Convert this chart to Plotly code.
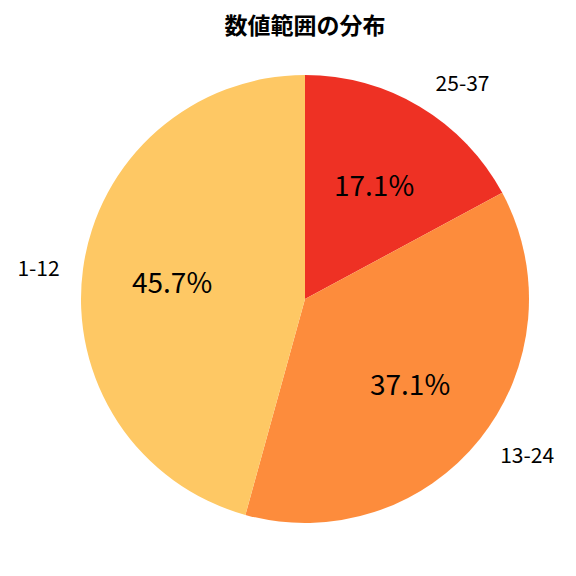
import math
import plotly.graph_objects as go

# data
labels = ["25-37", "13-24", "1-12"]
counts = [6, 13, 16]
colors = ["#ee3124", "#fd8c3c", "#fec864"]

font = "Noto Sans CJK JP"
W = H = 576
# pie centre / radius in page pixels (page body has an 8px margin)
CX, CY, R = 297, 291, 224


def dom(r):
    return dict(x=[(CX - r) / W, (CX + r) / W], y=[1 - (CY + r) / H, 1 - (CY - r) / H])


# outer labels (category names) on a slightly larger transparent pie
outer = go.Pie(labels=labels, values=counts, sort=False, direction="clockwise", rotation=0,
               domain=dom(240),
               marker=dict(colors=["rgba(0,0,0,0)"] * 3, line=dict(width=0)),
               textinfo="label", textposition="outside",
               textfont=dict(size=21, color="black", family=font),
               showlegend=False, hoverinfo="skip")
# the pie itself
inner = go.Pie(labels=labels, values=counts, sort=False, direction="clockwise", rotation=0,
               domain=dom(R),
               marker=dict(colors=colors, line=dict(width=0)),
               textinfo="none", showlegend=False)

# percentage labels at 0.6 of the radius, along each slice bisector
total = sum(counts)
annotations = []
cum = 0
for c in counts:
    mid = (cum + c / 2) / total * 2 * math.pi
    cum += c
    x = CX + 0.6 * R * math.sin(mid)
    y = CY - 0.6 * R * math.cos(mid)
    annotations.append(dict(x=x / W, y=1 - y / H, xref="paper", yref="paper",
                            text=f"{c / total * 100:.1f}%", showarrow=False,
                            xanchor="center", yanchor="middle",
                            font=dict(size=28, color="black", family=font)))

fig = go.Figure([outer, inner])
fig.update_layout(
    width=W, height=H,
    margin=dict(l=0, r=0, t=0, b=0),
    paper_bgcolor="white",
    font=dict(family=font),
    annotations=annotations,
    title=dict(text="<b>数値範囲の分布</b>", x=CX / W, xanchor="center", y=1 - 18 / H, yanchor="middle",
               font=dict(size=23, color="black", family=font)),
)
fig.write_html("out.html")
